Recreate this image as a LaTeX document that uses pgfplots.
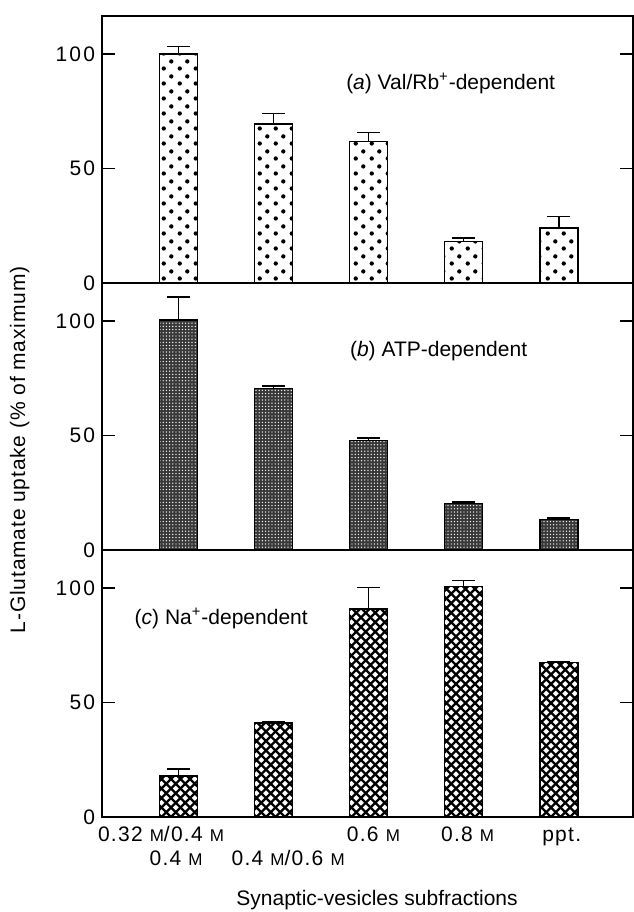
\documentclass[border=0pt]{standalone}
\usepackage{fontspec}
\setmainfont{Liberation Sans}
\usepackage{pgfplots}
\pgfplotsset{compat=1.18}
\usepackage{pgfplotstable}
\usetikzlibrary{patterns.meta}

\newcommand{\M}{{\fontsize{8.5bp}{9bp}\selectfont M}}

\tikzdeclarepattern{
  name=bigdots, type=uncolored,
  bottom left={(0bp,0bp)}, top right={(8bp,7.5bp)}, tile size={(8bp,7.5bp)},
  code={\fill (2bp,1.875bp) circle (1.15bp); \fill (6bp,5.625bp) circle (1.15bp);}
}
\tikzdeclarepattern{
  name=xhatch, type=uncolored,
  bottom left={(-0.6bp,-0.6bp)}, top right={(5.35bp,5.35bp)}, tile size={(4.75bp,4.75bp)},
  code={\draw[line width=1.1bp] (-0.6bp,-0.6bp)--(5.35bp,5.35bp) (-0.6bp,5.35bp)--(5.35bp,-0.6bp);}
}

\pgfplotstableread{
x y e
0 100 3.3
1 69.4 4.7
2 61.7 4.1
3 18.2 1.5
4 24.1 4.9
}\dataA
\pgfplotstableread{
x y e
0 100.5 9.9
1 70.4 1.2
2 47.9 1.0
3 20.3 0.6
4 13.4 0.5
}\dataB
\pgfplotstableread{
x y e
0 17.9 3.1
1 41.1 0.5
2 90.8 9.5
3 100.6 2.6
4 67.5 0.5
}\dataC

\pgfplotsset{panel/.style={
  scale only axis, width=265.5bp, height=133.5bp,
  xmin=-0.805, xmax=4.78, ymin=0, ymax=116.6,
  ybar, bar width=19bp,
  ytick={0,50,100}, ytick pos=both, yticklabel pos=left, tick align=inside,
  major tick length=6.5bp,
  xtick=\empty,
  axis line style={line width=0.7bp},
  every tick/.style={line width=0.7bp, black},
  tick label style={font=\fontsize{10.5bp}{12bp}\selectfont},
  yticklabel style={font=\fontsize{10.5bp}{12bp}\selectfont\addfontfeatures{LetterSpace=10}},
  /pgf/number format/assume math mode=true,
}}
\pgfplotsset{bars/.style={draw=black, line width=0.7bp,
  error bars/.cd, y dir=plus, y explicit,
  error mark options={rotate=90, mark size=5.75bp, line width=0.7bp, black},
  error bar style={line width=0.7bp, black}}}

\begin{document}
\begin{tikzpicture}
\begin{axis}[panel, at={(51bp,314.5bp)}, anchor=south west]
\addplot[pattern=bigdots, bars] table[x=x,y=y,y error=e] {\dataA};
\node[anchor=west, font=\fontsize{10.5bp}{12bp}\selectfont] at (axis cs:1.69,87) {(\textit{a}) Val/Rb\textsuperscript{+}-dependent};
\end{axis}
\begin{axis}[panel, at={(51bp,181bp)}, anchor=south west,
  ylabel={L-Glutamate uptake (\% of maximum)},
  ylabel style={at={(axis description cs:-0.145,0.375)}, anchor=base, font=\fontsize{10.5bp}{12bp}\selectfont\addfontfeatures{LetterSpace=4}}]
\addplot[fill=black!78, postaction={pattern={Dots[distance=1.6bp, radius=0.35bp]}, pattern color=white}, bars] table[x=x,y=y,y error=e] {\dataB};
\node[anchor=west, font=\fontsize{10.5bp}{12bp}\selectfont] at (axis cs:1.73,86.8) {(\textit{b}) ATP-dependent};
\end{axis}
\begin{axis}[panel, at={(51bp,47.5bp)}, anchor=south west,
  xtick={-0.184,-0.026,1.153,2.05,3.04,4.03},
  xticklabels={{0.32 \M/0.4 \M}, {\raisebox{-11.7bp}{0.4 \M}}, {\raisebox{-11.7bp}{0.4 \M/0.6 \M}}, {0.6 \M}, {0.8 \M}, {ppt.}},
  xtick style={draw=none},
  xticklabel style={anchor=base, yshift=-12.3bp, font=\fontsize{10.5bp}{12bp}\selectfont\addfontfeatures{LetterSpace=6}},
  xlabel={Synaptic-vesicles subfractions},
  xlabel style={at={(axis description cs:0.518,0)}, anchor=base, yshift=-44bp, font=\fontsize{10.5bp}{12bp}\selectfont}]
\addplot[pattern=xhatch, bars] table[x=x,y=y,y error=e] {\dataC};
\node[anchor=west, font=\fontsize{10.5bp}{12bp}\selectfont] at (axis cs:-0.535,86.9) {(\textit{c}) Na\textsuperscript{+}-dependent};
\end{axis}
\pgfresetboundingbox
\path[use as bounding box] (0,0) rectangle (317bp,456bp);
\end{tikzpicture}
\end{document}
